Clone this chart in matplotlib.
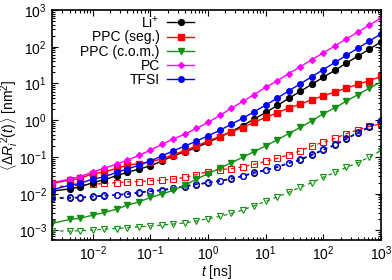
import matplotlib
matplotlib.use("Agg")
import matplotlib.pyplot as plt

plt.rcParams["font.family"] = ["Liberation Sans", "DejaVu Sans"]
plt.rcParams["mathtext.fontset"] = "custom"
plt.rcParams["mathtext.rm"] = "Liberation Sans"
plt.rcParams["mathtext.it"] = "Liberation Sans:italic"
plt.rcParams["font.size"] = 10

# time axis [ns]
t = [0.002, 0.004, 0.006, 0.01, 0.016, 0.026, 0.04, 0.064,
     0.1, 0.16, 0.25, 0.4, 0.63, 1, 1.6, 2.5, 4, 6.3,
     10, 16, 25, 40, 63, 100, 160, 250, 400, 630, 1000]

# solid curves (filled markers)
li = [0.0118, 0.0135, 0.0152, 0.020, 0.024, 0.031, 0.038, 0.047,
      0.057, 0.078, 0.107, 0.138, 0.18, 0.25, 0.347, 0.49, 0.716, 1.07,
      1.63, 2.52, 3.93, 6.1, 9.5, 14.8, 23, 35.8, 55.7, 86.7, 135]
ppc_seg = [0.019, 0.0234, 0.026, 0.035, 0.039, 0.049, 0.060, 0.066,
           0.074, 0.089, 0.115, 0.15, 0.2, 0.27, 0.36, 0.48, 0.63, 0.88,
           1.19, 1.6, 2.15, 2.75, 3.6, 4.6, 5.9, 7.5, 9.5, 12, 15.5]
ppc_com = [0.00155, 0.0020, 0.00214, 0.0026, 0.0031, 0.0038, 0.0049, 0.006,
           0.0079, 0.0098, 0.0124, 0.017, 0.025, 0.035, 0.049, 0.069, 0.098, 0.14,
           0.2, 0.295, 0.43, 0.64, 0.96, 1.5, 2.2, 3.3, 5.0, 7.5, 11]
pc = [0.020, 0.025, 0.029, 0.039, 0.049, 0.064, 0.082, 0.11,
      0.153, 0.22, 0.31, 0.42, 0.6, 0.87, 1.35, 2.09, 3.24, 5.0,
      7.8, 12, 18.5, 28.6, 44.3, 68.4, 106, 163, 252, 390, 603]
tfsi = [0.0128, 0.017, 0.019, 0.025, 0.029, 0.038, 0.047, 0.060,
        0.078, 0.107, 0.147, 0.2, 0.27, 0.376, 0.53, 0.77, 1.13, 1.7,
        2.57, 4.02, 6.28, 9.8, 15.3, 24, 37.5, 58.6, 91.6, 143, 224]

# dashed curves (open markers)
ppc_seg_d = [0.016, 0.016, 0.017, 0.018, 0.019, 0.020, 0.021, 0.0215,
             0.0225, 0.0235, 0.025, 0.028, 0.033, 0.040, 0.045, 0.048, 0.054, 0.063,
             0.076, 0.092, 0.115, 0.147, 0.2, 0.25, 0.32, 0.43, 0.55, 0.68, 0.8]
ppc_com_d = [0.00098, 0.00096, 0.00098, 0.00103, 0.00108, 0.00113, 0.00119, 0.00126,
             0.00133, 0.0014, 0.0015, 0.0016, 0.0018, 0.0021, 0.0024, 0.0029, 0.0036, 0.0047,
             0.0062, 0.0082, 0.011, 0.015, 0.02, 0.028, 0.038, 0.052, 0.07, 0.1, 0.15]
tfsi_d = [0.0078, 0.0079, 0.008, 0.0085, 0.009, 0.0095, 0.010, 0.011,
          0.012, 0.0127, 0.0145, 0.0163, 0.0185, 0.0202, 0.0228, 0.026, 0.031, 0.038,
          0.045, 0.054, 0.07, 0.087, 0.117, 0.16, 0.22, 0.32, 0.47, 0.68, 1.0]
li_d = [0.0075, 0.0076, 0.0077, 0.0082, 0.0087, 0.0091, 0.0096, 0.0106,
        0.0115, 0.0122, 0.0139, 0.0156, 0.0178, 0.0194, 0.0219, 0.025, 0.0297, 0.0365,
        0.043, 0.052, 0.067, 0.083, 0.112, 0.153, 0.21, 0.305, 0.45, 0.65, 0.95]

labels = ["Li$^{+}$", "PPC (seg.)", "PPC (c.o.m.)", "PC", "TFSI"]
GREEN = "#139113"

fig = plt.figure(figsize=(3.92, 2.8), dpi=100)
ax = fig.add_axes([52.3 / 392, 40 / 280, (381 - 52.3) / 392, 230 / 280])

# dashed series first, so solid ones sit on top
ax.plot(t, ppc_com_d, "--", color=GREEN, lw=0.9, marker="v", ms=4,
        mfc="none", mew=0.8, dashes=(3, 3))
ax.plot(t, ppc_seg_d, "--", color="red", lw=0.9, marker="s", ms=4.2,
        mfc="none", mew=0.8, dashes=(3, 3))
ax.plot(t, li_d, "--", color="black", lw=0.9, marker="o", ms=4.2,
        mfc="none", mew=0.8, dashes=(3, 3))
ax.plot(t, tfsi_d, "--", color="blue", lw=0.9, marker="o", ms=4.2,
        mfc="none", mew=0.8, dashes=(3, 3))

ax.plot(t, li, "-", color="black", lw=1, marker="o", ms=4.2, label=labels[0])
ax.plot(t, ppc_seg, "-", color="red", lw=1, marker="s", ms=4, label=labels[1])
ax.plot(t, ppc_com, "-", color=GREEN, lw=1, marker="v", ms=3.8, label=labels[2])
ax.plot(t, pc, "-", color="magenta", lw=1, marker="D", ms=3, label=labels[3])
ax.plot(t, tfsi, "-", color="blue", lw=1, marker="o", ms=4, label=labels[4])

ax.set_xscale("log")
ax.set_yscale("log")
ax.set_xlim(0.002, 1000)
ax.set_ylim(5.5e-4, 1000)

ax.tick_params(which="both", direction="in", top=True, right=True, width=0.8)
ax.tick_params(which="major", length=4, labelsize=10)
ax.tick_params(which="minor", length=2)
ax.tick_params(axis="x", which="major", pad=3)
ax.tick_params(axis="y", which="major", pad=4)
for s in ax.spines.values():
    s.set_linewidth(1.2)

ax.set_xlabel("$t$ [ns]", va="top")
ax.set_ylabel(r"$\langle\Delta R_i^{\,2}(t)\rangle$ [nm$^2$]")
ax.xaxis.set_label_coords(0.5, -0.098)
ax.yaxis.set_label_coords(-0.097, 0.5)

ax.legend(loc="upper right", bbox_to_anchor=(0.445, 1.0), frameon=False,
          markerfirst=False, handlelength=2.0, handletextpad=0.5,
          labelspacing=0.02, borderpad=0.3, borderaxespad=0.0)

fig.savefig("out.png", dpi=100)
